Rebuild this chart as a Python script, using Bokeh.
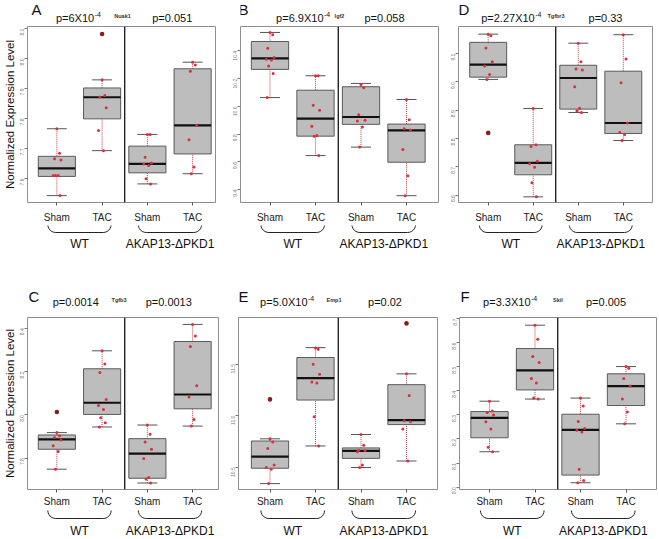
import math
from bokeh.plotting import figure
from bokeh.layouts import row, column
from bokeh.models import FixedTicker, Range1d, Span, PrintfTickFormatter
from bokeh.core.properties import value
from bokeh.embed import file_html
from bokeh.resources import INLINE

# ---------------- data ----------------
conditions = ["Sham", "TAC", "Sham", "TAC"]
genotypes = ["WT", "AKAP13-\u0394PKD1"]
y_title = "Normalized Expression Level"

panel_letters = ["A", "B", "D", "C", "E", "F"]
genes = ["Nuak1", "Igf2", "Tgfbr3", "Tgfb3", "Emp1", "Skil"]
p_wt = [("p=6X10", "-4"), ("p=6.9X10", "-4"), ("p=2.27X10", "-4"),
        ("p=0.0014", ""), ("p=5.0X10", "-4"), ("p=3.3X10", "-4")]
p_akap = ["p=0.051", "p=0.058", "p=0.33", "p=0.0013", "p=0.02", "p=0.005"]

y_ranges = [(7.52, 8.107), (9.308, 10.576), (8.574, 9.196),
            (7.655, 8.45), (10.284, 11.951), (7.99, 8.705)]
y_ticks = [[7.6, 7.7, 7.8, 7.9, 8.0, 8.1],
           [9.4, 9.6, 9.8, 10.0, 10.2, 10.4],
           [8.6, 8.7, 8.8, 8.9, 9.0, 9.1],
           [7.8, 8.0, 8.2, 8.4],
           [10.5, 11.0, 11.5],
           [8.0, 8.1, 8.2, 8.3, 8.4, 8.5, 8.6, 8.7]]

# box statistics per group: (lower whisker, Q1, median, Q3, upper whisker)
nuak1_box = [(7.543, 7.607, 7.634, 7.674, 7.766), (7.693, 7.799, 7.871, 7.902, 7.929),
             (7.582, 7.619, 7.649, 7.708, 7.747), (7.616, 7.682, 7.777, 7.966, 7.988)]
igf2_box = [(10.064, 10.267, 10.347, 10.468, 10.533), (9.646, 9.786, 9.912, 10.117, 10.221),
            (9.707, 9.871, 9.924, 10.142, 10.166), (9.357, 9.598, 9.828, 9.873, 10.05)]
tgfbr3_box = [(9.009, 9.017, 9.061, 9.14, 9.169), (8.594, 8.672, 8.714, 8.778, 8.906),
              (8.892, 8.904, 9.014, 9.059, 9.137), (8.793, 8.818, 8.855, 9.038, 9.167)]
tgfb3_box = [(7.749, 7.841, 7.887, 7.907, 7.918), (7.944, 8.002, 8.056, 8.213, 8.296),
             (7.685, 7.707, 7.821, 7.89, 7.953), (7.948, 8.028, 8.094, 8.339, 8.418)]
emp1_box = [(10.341, 10.49, 10.602, 10.754, 10.775), (10.706, 11.151, 11.363, 11.563, 11.659),
            (10.497, 10.586, 10.659, 10.687, 10.817), (10.56, 10.913, 10.957, 11.3, 11.405)]
skil_box = [(8.147, 8.205, 8.288, 8.314, 8.357), (8.366, 8.404, 8.485, 8.576, 8.673),
            (8.018, 8.05, 8.238, 8.303, 8.37), (8.263, 8.339, 8.42, 8.471, 8.501)]

# individual samples per group
nuak1_pts = [[7.766, 7.684, 7.666, 7.662, 7.61, 7.61, 7.61, 7.543],
             [7.929, 7.877, 7.872, 7.836, 7.76, 7.693],
             [7.747, 7.747, 7.671, 7.652, 7.648, 7.643, 7.599, 7.582],
             [7.988, 7.979, 7.958, 7.777, 7.729, 7.638, 7.616]]
igf2_pts = [[10.533, 10.516, 10.419, 10.352, 10.34, 10.335, 10.291, 10.238, 10.064],
            [10.221, 10.221, 10.009, 9.972, 9.857, 9.791, 9.786, 9.646],
            [10.158, 10.134, 9.941, 9.9, 9.895, 9.852, 9.707],
            [10.05, 9.905, 9.84, 9.83, 9.69, 9.501, 9.357]]
tgfbr3_pts = [[9.169, 9.163, 9.12, 9.071, 9.056, 9.026, 9.009],
              [8.906, 8.778, 8.772, 8.72, 8.711, 8.699, 8.644, 8.594],
              [9.137, 9.071, 9.046, 9.042, 8.983, 8.907, 8.898, 8.892],
              [9.167, 9.081, 8.997, 8.855, 8.821, 8.814, 8.793]]
tgfb3_pts = [[7.918, 7.903, 7.895, 7.884, 7.857, 7.831, 7.749],
             [8.296, 8.235, 8.196, 8.071, 8.043, 8.025, 7.987, 7.964, 7.944],
             [7.953, 7.91, 7.875, 7.841, 7.798, 7.711, 7.704, 7.685],
             [8.418, 8.365, 8.316, 8.135, 8.082, 7.979, 7.948]]
emp1_pts = [[10.775, 10.744, 10.681, 10.522, 10.497, 10.481, 10.341],
            [11.656, 11.643, 11.497, 11.402, 11.325, 11.316, 10.989, 10.706],
            [10.817, 10.713, 10.665, 10.659, 10.651, 10.522, 10.497],
            [11.405, 11.195, 10.951, 10.941, 10.871, 10.56]]
skil_pts = [[8.357, 8.316, 8.31, 8.3, 8.272, 8.242, 8.166, 8.147],
            [8.673, 8.615, 8.543, 8.518, 8.451, 8.433, 8.37, 8.366],
            [8.37, 8.337, 8.273, 8.244, 8.236, 8.229, 8.074, 8.027, 8.018],
            [8.501, 8.494, 8.451, 8.42, 8.366, 8.312, 8.263]]

# outliers: (group index, value)
nuak1_out = [(1, 8.082)]
igf2_out = []
tgfbr3_out = [(0, 8.82)]
tgfb3_out = [(0, 8.013)]
emp1_out = [(0, 11.157), (3, 11.894)]
skil_out = []

boxes = [nuak1_box, igf2_box, tgfbr3_box, tgfb3_box, emp1_box, skil_box]
points = [nuak1_pts, igf2_pts, tgfbr3_pts, tgfb3_pts, emp1_pts, skil_pts]
outliers = [nuak1_out, igf2_out, tgfbr3_out, tgfb3_out, emp1_out, skil_out]

# ---------------- layout / style ----------------
FONT = "Liberation Sans"
JIT = [0.0, 0.06, -0.05, 0.09, -0.08, 0.03, -0.03, 0.07, -0.06]
BOX_W = 0.82
CAP_W = 0.44
PXU = 45.5  # pixels per category step

# per panel: canvas left (page px), canvas width, border left/right, page x of first box centre
cols = [dict(px=0, W=226, l=26, r=11, c1=55.5),
        dict(px=226, W=220, l=14, r=8, c1=269.5),
        dict(px=446, W=213, l=10, r=7, c1=486.0),
        dict(px=0, W=226, l=26, r=8, c1=55.5),
        dict(px=226, W=220, l=12, r=9, c1=269.5),
        dict(px=446, W=213, l=13, r=3, c1=489.0)]
# per row: header strip, main plot and footer strip heights; text anchors (page y)
rows = [dict(top=0, hh=25, t=1, fh=177, b=22, fbh=45, stand=6,
             p_y=17, sup_y=14, gene_y=15, let_y=8.5, br_t=21, br_b=29, grp=40),
        dict(top=270, hh=46, t=1, fh=174, b=18, fbh=30, stand=3,
             p_y=301, sup_y=298, gene_y=299, let_y=296, br_t=19, br_b=27, grp=39)]
# header text anchors (page x)
txt_x = [dict(let=30, p1=93, p1c=False, p2=171.5, gene=121.5),
         dict(let=238, p1=323, p1c=False, p2=384, gene=339),
         dict(let=456, p1=533, p1c=False, p2=604.5, gene=554.5),
         dict(let=27, p1=74.5, p1c=True, p2=168, gene=118),
         dict(let=238, p1=307, p1c=False, p2=384.5, gene=333.5),
         dict(let=460, p1=530, p1c=False, p2=605.5, gene=557.5)]


def strip(W, H, l, r, x0, x1):
    # same horizontal borders and x range as the main plot, so x maps identically
    s = figure(width=W, height=H, x_range=Range1d(x0, x1), y_range=Range1d(H, 0),
               min_border_left=l, min_border_right=r, min_border_top=0,
               min_border_bottom=0, toolbar_location=None, output_backend="svg",
               x_axis_location=None, y_axis_location=None)
    s.outline_line_color = None
    s.xgrid.visible = False
    s.ygrid.visible = False
    return s


def make_panel(i):
    C = cols[i]
    R = rows[0 if i < 3 else 1]
    T = txt_x[i]
    W = C["W"]
    fw = W - C["l"] - C["r"]
    FL = C["px"] + C["l"]
    x0 = 1 - (C["c1"] - FL) / PXU
    x1 = x0 + fw / PXU

    def X(px):  # page x -> data x
        return x0 + (px - FL) / PXU

    y0, y1 = y_ranges[i]
    H = R["t"] + R["fh"] + R["b"]
    p = figure(width=W, height=H, x_range=Range1d(x0, x1),
               y_range=Range1d(y0, y1), min_border_left=C["l"],
               min_border_right=C["r"], min_border_top=R["t"],
               min_border_bottom=R["b"], toolbar_location=None,
               output_backend="svg")
    p.outline_line_color = "#8f8f8f"
    p.outline_line_width = 1
    p.xgrid.visible = False
    p.ygrid.visible = False

    p.xaxis.ticker = FixedTicker(ticks=[1, 2, 3, 4], minor_ticks=[])
    p.xaxis.major_label_overrides = {k + 1: conditions[k] for k in range(4)}
    p.xaxis.major_label_text_font = FONT
    p.xaxis.major_label_text_font_size = "10px"
    p.xaxis.major_label_text_color = "#222222"
    p.xaxis.major_tick_out = 3
    p.xaxis.major_tick_in = 0
    p.xaxis.major_tick_line_color = "#555555"
    p.xaxis.axis_line_color = None
    p.xaxis.major_label_standoff = R["stand"]

    p.yaxis.ticker = FixedTicker(ticks=y_ticks[i], minor_ticks=[])
    p.yaxis.formatter = PrintfTickFormatter(format="%.1f")
    p.yaxis.major_label_orientation = math.pi / 2
    p.yaxis.major_label_text_font = FONT
    p.yaxis.major_label_text_font_size = "5px"
    p.yaxis.major_label_text_color = "#777777"
    p.yaxis.major_tick_out = 3
    p.yaxis.major_tick_in = 0
    p.yaxis.major_tick_line_color = "#777777"
    p.yaxis.axis_line_color = None
    p.yaxis.major_label_standoff = 2
    if i in (0, 3):
        p.yaxis.axis_label = y_title
        p.yaxis.axis_label_text_font = FONT
        p.yaxis.axis_label_text_font_size = "11.5px"
        p.yaxis.axis_label_text_font_style = "normal"
        p.yaxis.axis_label_text_color = "#111111"
        p.yaxis.axis_label_standoff = 0

    pos = [1, 2, 3, 4]
    st = boxes[i]
    lo = [s[0] for s in st]
    q1 = [s[1] for s in st]
    md = [s[2] for s in st]
    q3 = [s[3] for s in st]
    hi = [s[4] for s in st]
    left = [c - BOX_W / 2 for c in pos]
    right = [c + BOX_W / 2 for c in pos]
    cl = [c - CAP_W / 2 for c in pos]
    cr = [c + CAP_W / 2 for c in pos]

    p.segment(x0=pos, y0=q3, x1=pos, y1=hi, line_color="#c0404e", line_width=1, line_dash="1 1")
    p.segment(x0=pos, y0=lo, x1=pos, y1=q1, line_color="#c0404e", line_width=1, line_dash="1 1")
    p.segment(x0=cl, y0=hi, x1=cr, y1=hi, line_color="#555555", line_width=1)
    p.segment(x0=cl, y0=lo, x1=cr, y1=lo, line_color="#555555", line_width=1)
    p.quad(left=left, right=right, bottom=q1, top=q3, fill_color="#bdbdbd",
           line_color="#5a5a5a", line_width=1)
    p.segment(x0=left, y0=md, x1=right, y1=md, line_color="#111111", line_width=2.2)

    xs, ys = [], []
    for g, vals in enumerate(points[i]):
        for k, v in enumerate(vals):
            xs.append(pos[g] + JIT[k % len(JIT)])
            ys.append(v)
    p.scatter(x=xs, y=ys, size=3.0, fill_color="#d9303c", line_color=None)
    if outliers[i]:
        p.scatter(x=[pos[g] for g, v in outliers[i]], y=[v for g, v in outliers[i]],
                  size=4.6, fill_color="#8a1a24", line_color=None)
    p.add_layout(Span(location=2.5, dimension="height", line_color="black", line_width=1.2))

    # header strip: panel letter, p-values, gene name
    top = R["top"]
    hd = strip(W, R["hh"], C["l"], C["r"], x0, x1)
    hd.text(x=[X(T["let"])], y=[R["let_y"] - top], text=[panel_letters[i]],
            text_font=value(FONT), text_font_size=value("15px"), text_color="#111111",
            text_align=value("left"), text_baseline=value("middle"))
    main, sup = p_wt[i]
    hd.text(x=[X(T["p1"])], y=[R["p_y"] - top], text=[main],
            text_font=value(FONT), text_font_size=value("11px"), text_color="#111111",
            text_align=value("center" if T["p1c"] else "right"), text_baseline=value("middle"))
    if sup:
        hd.text(x=[X(T["p1"] + 0.5)], y=[R["sup_y"] - top], text=[sup],
                text_font=value(FONT), text_font_size=value("7px"), text_color="#111111",
                text_align=value("left"), text_baseline=value("middle"))
    hd.text(x=[X(T["p2"])], y=[R["p_y"] - top], text=[p_akap[i]],
            text_font=value(FONT), text_font_size=value("11px"), text_color="#111111",
            text_align=value("center"), text_baseline=value("middle"))
    hd.text(x=[X(T["gene"])], y=[R["gene_y"] - top], text=[genes[i]],
            text_font=value(FONT), text_font_size=value("5.5px"), text_font_style=value("bold"),
            text_color="#333333", text_align=value("center"), text_baseline=value("middle"))

    # footer strip: braces and genotype labels (y measured down from frame bottom)
    ft = strip(W, R["fbh"], C["l"], C["r"], x0, x1)
    off = R["b"]
    for gi, cx in enumerate([1.5, 3.5]):
        xl = cx - 0.7
        xr = cx + 0.7
        yt = R["br_t"] - off
        yb = R["br_b"] - off
        r = yb - yt
        rx = r / PXU
        bx, by = [], []
        for k in range(7):
            th = math.pi / 2 * k / 6
            bx.append(xl + rx - rx * math.cos(th))
            by.append(yt + r * math.sin(th))
        for k in range(7):
            th = math.pi / 2 * k / 6
            bx.append(xr - rx + rx * math.sin(th))
            by.append(yb - r + r * math.cos(th))
        ft.line(x=bx, y=by, line_color="#222222", line_width=1)
        ft.text(x=[cx], y=[R["grp"] - off], text=[genotypes[gi]],
                text_font=value(FONT), text_font_size=value("12px"), text_color="#111111",
                text_align=value("center"), text_baseline=value("middle"))

    return column(hd, p, ft, spacing=0)


panels = [make_panel(i) for i in range(6)]
layout = column(row(panels[0], panels[1], panels[2], spacing=0),
                row(panels[3], panels[4], panels[5], spacing=0), spacing=0)

open("out.html", "w").write(file_html(layout, INLINE))
